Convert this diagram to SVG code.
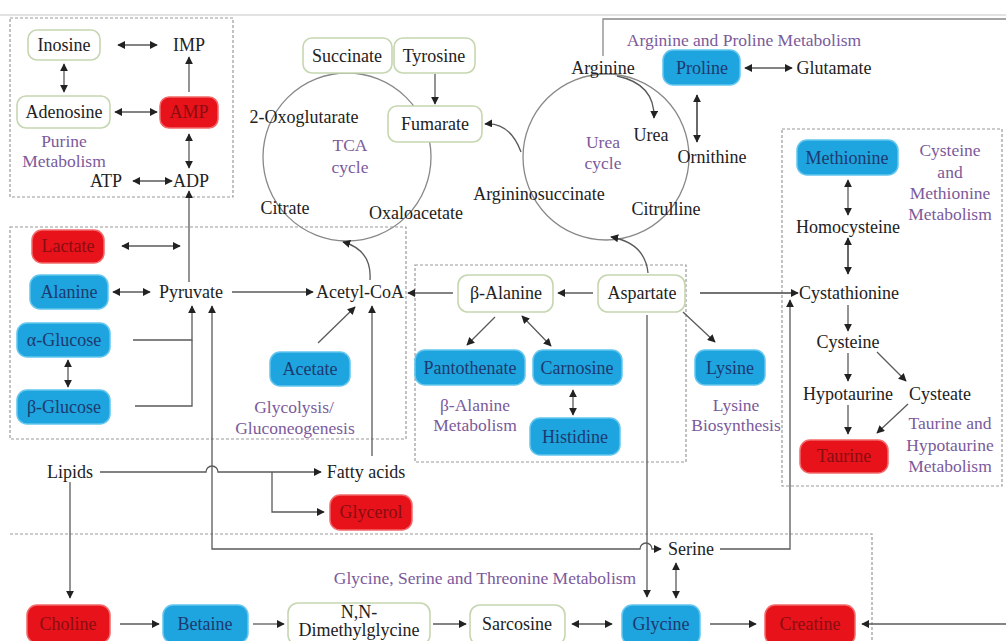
<svg xmlns="http://www.w3.org/2000/svg" width="1006" height="641" viewBox="0 0 1006 641">
<defs>
<style>
.t{font-family:"Liberation Serif","Times New Roman",serif;font-size:18px;fill:#222;text-anchor:middle;dominant-baseline:central}
.tb{fill:#1d3a6e}
.tr{fill:#8a0d10}
.p{font-family:"Liberation Serif","Times New Roman",serif;font-size:17.5px;fill:#7b5a9b;text-anchor:middle;dominant-baseline:central}
.b{fill:#1ea4df;stroke:#63c6ee;stroke-width:1.5}
.r{fill:#e8121b;stroke:#f26a6a;stroke-width:1.5}
.w{fill:#fff;stroke:#c6d6b0;stroke-width:1.6}
.box{fill:none;stroke:#9a9a9a;stroke-width:1.2;stroke-dasharray:3 2}
.c{fill:none;stroke:#5a5a5a;stroke-width:1.3}
.cd{fill:none;stroke:#444;stroke-width:1.6}
.a{marker-end:url(#ah)}
.d{marker-start:url(#ah);marker-end:url(#ah)}
</style>
<marker id="ah" viewBox="0 0 10 10" refX="9" refY="5" markerWidth="8" markerHeight="8" markerUnits="userSpaceOnUse" orient="auto-start-reverse">
<path d="M0,0 L10,5 L0,10 z" fill="#222"/>
</marker>
</defs>
<rect width="1006" height="641" fill="#fff"/>
<line x1="0" y1="15" x2="1006" y2="15" stroke="#e2e2e2" stroke-width="2"/>

<g id="boxes">
<rect class="box" x="10" y="18" width="223" height="179"/>
<rect class="box" x="10" y="227" width="396" height="212"/>
<rect class="box" x="415" y="265" width="271" height="197"/>
<rect class="box" x="782" y="129" width="220" height="357"/>
<path class="box" d="M10,534 H872 V641"/>
<path d="M603,56 V19 H1006" fill="none" stroke="#888" stroke-width="1.3"/>
<circle cx="347" cy="157" r="84" fill="none" stroke="#888" stroke-width="1.3"/>
<circle cx="606" cy="157" r="83" fill="none" stroke="#888" stroke-width="1.3"/>
</g>

<g id="connectors">
<line class="c d" x1="118" y1="45" x2="157" y2="45"/>
<line class="c a" x1="189" y1="92" x2="189" y2="57"/>
<line class="c d" x1="64" y1="64" x2="64" y2="92"/>
<line class="c d" x1="115" y1="112" x2="157" y2="112"/>
<line class="c d" x1="189" y1="134" x2="189" y2="168"/>
<line class="c d" x1="133" y1="181" x2="172" y2="181"/>
<line class="c a" x1="189" y1="282" x2="189" y2="191"/>
<line class="c a" x1="435" y1="74" x2="435" y2="104"/>
<path class="c a" d="M521,152 Q510,122 485,124"/>
<path class="c a" d="M370,280 Q372,250 343,242"/>
<path class="c a" d="M617,76 Q655,84 654,118"/>
<path class="c a" d="M648,273 Q645,243 611,237"/>
<line class="c d" x1="745" y1="68" x2="792" y2="68"/>
<line class="cd d" x1="697" y1="95" x2="697" y2="142"/>
<line class="c d" x1="848" y1="180" x2="848" y2="215"/>
<line class="cd d" x1="848" y1="238" x2="848" y2="274"/>
<line class="c a" x1="848" y1="305" x2="848" y2="331"/>
<line class="c a" x1="848" y1="353" x2="848" y2="381"/>
<line class="c a" x1="877" y1="352" x2="906" y2="381"/>
<line class="c a" x1="848" y1="405" x2="848" y2="434"/>
<line class="c a" x1="908" y1="404" x2="877" y2="433"/>
<line class="c d" x1="122" y1="246" x2="180" y2="246"/>
<line class="c d" x1="113" y1="292" x2="150" y2="292"/>
<line class="c a" x1="232" y1="292" x2="313" y2="292"/>
<line class="c d" x1="68" y1="360" x2="68" y2="387"/>
<path class="c a" d="M133,340 H192 V306"/>
<path class="c" d="M135,406 H192 V340"/>
<line class="c a" x1="318" y1="343" x2="355" y2="307"/>
<line class="c a" x1="372" y1="456" x2="372" y2="306"/>
<line class="c a" x1="593" y1="293" x2="558" y2="293"/>
<line class="c a" x1="453" y1="293" x2="408" y2="293"/>
<line class="cd a" x1="700" y1="293" x2="798" y2="293"/>
<line class="c a" x1="495" y1="317" x2="467" y2="345"/>
<line class="c d" x1="522" y1="316" x2="551" y2="346"/>
<line class="c d" x1="573" y1="390" x2="573" y2="415"/>
<line class="c a" x1="683" y1="312" x2="715" y2="342"/>
<line class="c a" x1="647" y1="315" x2="647" y2="597"/>
<path class="c a" d="M720,549 H790 V300"/>
<path class="c d" d="M212,306 V549 H640 a6,6 0 0 1 12,0 H661"/>
<path class="c a" d="M100,472 H206 a6,6 0 0 1 12,0 H321"/>
<path class="c a" d="M272,472 V512 H324"/>
<line class="c a" x1="70" y1="482" x2="70" y2="598"/>
<line class="c d" x1="676" y1="563" x2="676" y2="598"/>
<line class="c a" x1="120" y1="624" x2="159" y2="624"/>
<line class="c a" x1="253" y1="624" x2="284" y2="624"/>
<line class="c a" x1="433" y1="624" x2="466" y2="624"/>
<line class="c d" x1="572" y1="624" x2="612" y2="624"/>
<line class="c a" x1="710" y1="624" x2="756" y2="624"/>
<line class="c a" x1="1006" y1="624" x2="862" y2="624"/>
</g>

<g id="n-inosine"><rect class="w" x="28" y="30" width="72" height="30" rx="9"/><text class="t" x="64" y="45">Inosine</text></g>
<g id="n-imp"><text class="t" x="189" y="45">IMP</text></g>
<g id="n-adenosine"><rect class="w" x="17" y="96" width="93" height="32" rx="9"/><text class="t" x="64" y="112">Adenosine</text></g>
<g id="n-amp"><rect class="r" x="160" y="97" width="58" height="31" rx="9"/><text class="t tr" x="189" y="112">AMP</text></g>
<g id="n-atp"><text class="t" x="106" y="181">ATP</text></g>
<g id="n-adp"><text class="t" x="191" y="181">ADP</text></g>
<g id="l-purine"><text class="p" x="64" y="141">Purine</text><text class="p" x="64" y="161">Metabolism</text></g>

<g id="n-succinate"><rect class="w" x="303" y="38" width="89" height="35" rx="9"/><text class="t" x="347" y="56">Succinate</text></g>
<g id="n-tyrosine"><rect class="w" x="394" y="38" width="81" height="35" rx="9"/><text class="t" x="434" y="56">Tyrosine</text></g>
<g id="n-fumarate"><rect class="w" x="388" y="106" width="94" height="36" rx="9"/><text class="t" x="435" y="124">Fumarate</text></g>
<g id="n-oxoglutarate"><text class="t" x="304" y="117">2-Oxoglutarate</text></g>
<g id="l-tca"><text class="p" x="350" y="145">TCA</text><text class="p" x="350" y="167">cycle</text></g>
<g id="n-citrate"><text class="t" x="285" y="208">Citrate</text></g>
<g id="n-oxaloacetate"><text class="t" x="416" y="213">Oxaloacetate</text></g>

<g id="l-argpro"><text class="p" x="744" y="40">Arginine and Proline Metabolism</text></g>
<g id="n-arginine"><text class="t" x="603" y="68">Arginine</text></g>
<g id="n-proline"><rect class="b" x="663" y="50" width="77" height="35" rx="10"/><text class="t tb" x="702" y="68">Proline</text></g>
<g id="n-glutamate"><text class="t" x="834" y="68">Glutamate</text></g>
<g id="n-urea"><text class="t" x="651" y="135">Urea</text></g>
<g id="l-urea"><text class="p" x="603" y="142">Urea</text><text class="p" x="603" y="163">cycle</text></g>
<g id="n-ornithine"><text class="t" x="712" y="157">Ornithine</text></g>
<g id="n-argininosuccinate"><text class="t" x="539" y="194">Argininosuccinate</text></g>
<g id="n-citrulline"><text class="t" x="666" y="209">Citrulline</text></g>

<g id="n-methionine"><rect class="b" x="797" y="140" width="101" height="35" rx="10"/><text class="t tb" x="847" y="158">Methionine</text></g>
<g id="l-cysmet"><text class="p" x="950" y="150">Cysteine</text><text class="p" x="950" y="172">and</text><text class="p" x="950" y="193">Methionine</text><text class="p" x="950" y="214">Metabolism</text></g>
<g id="n-homocysteine"><text class="t" x="848" y="227">Homocysteine</text></g>
<g id="n-cystathionine"><text class="t" x="849" y="293">Cystathionine</text></g>
<g id="n-cysteine"><text class="t" x="848" y="342">Cysteine</text></g>
<g id="n-hypotaurine"><text class="t" x="848" y="394">Hypotaurine</text></g>
<g id="n-cysteate"><text class="t" x="940" y="394">Cysteate</text></g>
<g id="n-taurine"><rect class="r" x="800" y="440" width="88" height="33" rx="10"/><text class="t tr" x="844" y="456">Taurine</text></g>
<g id="l-taurine"><text class="p" x="950" y="423">Taurine and</text><text class="p" x="950" y="445">Hypotaurine</text><text class="p" x="950" y="466">Metabolism</text></g>

<g id="n-lactate"><rect class="r" x="32" y="230" width="72" height="33" rx="10"/><text class="t tr" x="68" y="246">Lactate</text></g>
<g id="n-alanine"><rect class="b" x="30" y="275" width="78" height="34" rx="10"/><text class="t tb" x="69" y="292">Alanine</text></g>
<g id="n-pyruvate"><text class="t" x="191" y="292">Pyruvate</text></g>
<g id="n-acetylcoa"><text class="t" x="360" y="292">Acetyl-CoA</text></g>
<g id="n-aglucose"><rect class="b" x="17" y="323" width="93" height="34" rx="10"/><text class="t tb" x="64" y="340">α-Glucose</text></g>
<g id="n-bglucose"><rect class="b" x="17" y="390" width="93" height="34" rx="10"/><text class="t tb" x="64" y="407">β-Glucose</text></g>
<g id="n-acetate"><rect class="b" x="270" y="352" width="80" height="34" rx="10"/><text class="t tb" x="310" y="369">Acetate</text></g>
<g id="l-glycolysis"><text class="p" x="294" y="407">Glycolysis/</text><text class="p" x="295" y="428">Gluconeogenesis</text></g>

<g id="n-balanine"><rect class="w" x="458" y="275" width="95" height="37" rx="10"/><text class="t" x="506" y="293">β-Alanine</text></g>
<g id="n-aspartate"><rect class="w" x="598" y="275" width="87" height="37" rx="10"/><text class="t" x="642" y="293">Aspartate</text></g>
<g id="n-pantothenate"><rect class="b" x="415" y="350" width="110" height="35" rx="10"/><text class="t tb" x="470" y="368">Pantothenate</text></g>
<g id="n-carnosine"><rect class="b" x="533" y="350" width="89" height="35" rx="10"/><text class="t tb" x="577" y="368">Carnosine</text></g>
<g id="n-histidine"><rect class="b" x="530" y="418" width="90" height="37" rx="10"/><text class="t tb" x="575" y="437">Histidine</text></g>
<g id="l-balanine"><text class="p" x="475" y="405">β-Alanine</text><text class="p" x="475" y="425">Metabolism</text></g>
<g id="n-lysine"><rect class="b" x="695" y="350" width="70" height="35" rx="10"/><text class="t tb" x="730" y="368">Lysine</text></g>
<g id="l-lysine"><text class="p" x="736" y="405">Lysine</text><text class="p" x="736" y="425">Biosynthesis</text></g>

<g id="n-lipids"><text class="t" x="70" y="472">Lipids</text></g>
<g id="n-fattyacids"><text class="t" x="366" y="472">Fatty acids</text></g>
<g id="n-glycerol"><rect class="r" x="330" y="495" width="82" height="35" rx="10"/><text class="t tr" x="371" y="512">Glycerol</text></g>

<g id="l-glycine"><text class="p" x="485" y="578">Glycine, Serine and Threonine Metabolism</text></g>
<g id="n-serine"><text class="t" x="691" y="549">Serine</text></g>
<g id="n-choline"><rect class="r" x="27" y="605" width="83" height="38" rx="10"/><text class="t tr" x="68" y="624">Choline</text></g>
<g id="n-betaine"><rect class="b" x="163" y="605" width="85" height="38" rx="10"/><text class="t tb" x="205" y="624">Betaine</text></g>
<g id="n-dmg"><rect class="w" x="288" y="603" width="142" height="42" rx="10"/><text class="t" x="359" y="612">N,N-</text><text class="t" x="359" y="630">Dimethylglycine</text></g>
<g id="n-sarcosine"><rect class="w" x="470" y="605" width="95" height="40" rx="10"/><text class="t" x="517" y="624">Sarcosine</text></g>
<g id="n-glycine"><rect class="b" x="622" y="605" width="78" height="40" rx="10"/><text class="t tb" x="661" y="624">Glycine</text></g>
<g id="n-creatine"><rect class="r" x="765" y="605" width="90" height="40" rx="10"/><text class="t tr" x="810" y="624">Creatine</text></g>
</svg>
